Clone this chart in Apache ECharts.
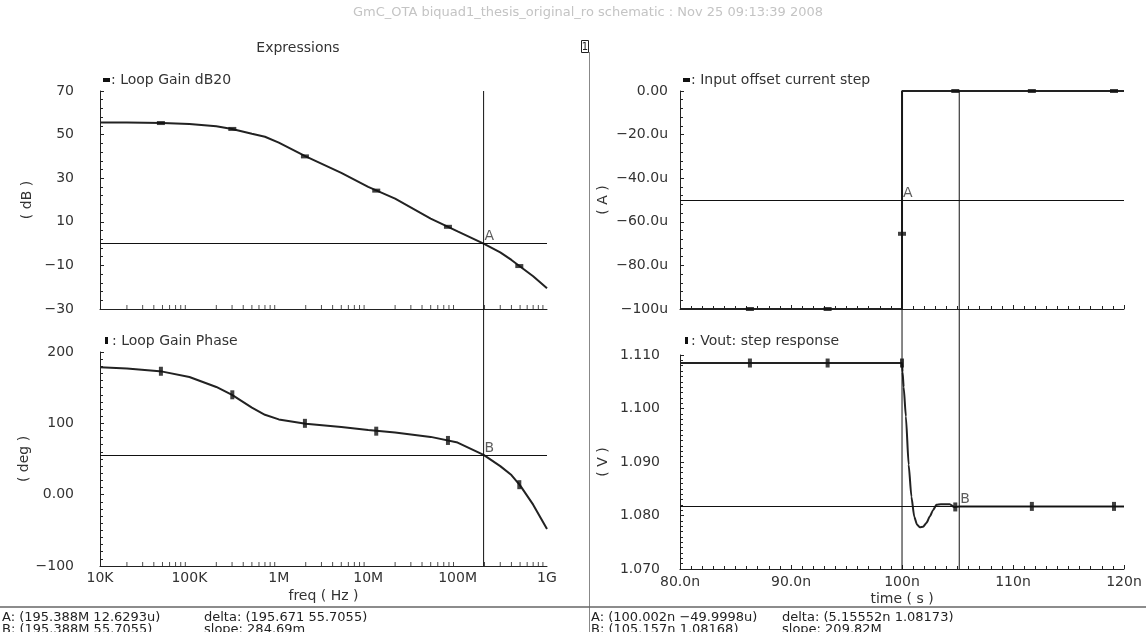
<!DOCTYPE html>
<html><head><meta charset="utf-8">
<script src="https://cdn.jsdelivr.net/npm/echarts@6/dist/echarts.min.js"></script>
<style>html,body{margin:0;padding:0;background:#fff}#c{width:1146px;height:632px}</style>
</head><body><div id="c"></div>
<script>
// ---- data ----
const freqHz   = [1e4,2e4,5e4,1e5,2e5,3e5,5e5,7e5,1e6,2e6,5e6,1e7,2e7,5e7,1e8,1.954e8,3e8,4e8,5e8,7e8,1e9];
const gainDb   = [55.5,55.5,55.3,54.9,53.8,52.6,50.4,49.0,46.3,40.0,32.4,26.0,20.6,11.5,5.6,0.0,-4.0,-7.5,-10.5,-15.0,-20.5];
const phaseDeg = [178.5,177,172.5,165,151,140,122,112,105.5,99.5,95,90.5,87,81,73,55.7,40,27.5,13,-14,-48];

const tStepNs = [80, 100, 100.004, 120];
const iStepUA = [-100, -100, 0, 0];

const tVoutNs = [80,100,100.05,100.15,100.35,100.6,100.85,101.1,101.35,101.6,101.9,102.2,102.5,102.8,103.1,103.5,104.3,104.7,105.2,120];
const vOutV   = [1.1085,1.1085,1.1068,1.1040,1.0985,1.0895,1.0835,1.0798,1.0783,1.0778,1.0779,1.0786,1.0798,1.0810,1.0820,1.0821,1.0821,1.0816,1.0817,1.0817];

const markFreqHz   = [4.8e4, 3.02e5, 1.96e6, 1.23e7, 7.8e7, 4.9e8];
const gainMarkDb   = [55.3, 52.6, 40.0, 24.3, 7.7, -10.3];
const phaseMarkDeg = [173, 140, 100, 89, 76, 14];
const markTimeNs   = [86.3, 93.3, 100.0, 104.8, 111.7, 119.1];
const iMarkUA      = [-100, -100, -65.5, 0, 0, 0];
const vMarkV       = [1.1085, 1.1085, 1.1085, 1.0816, 1.0817, 1.0817];

const cursorFreqHz = 195.388e6, cursorADb = 12.6293e-6, cursorBDeg = 55.7055;
const cursorATimeNs = 100.002, cursorAUA = -49.9998, cursorBTimeNs = 105.157, cursorBV = 1.08168;

const freqTickLabels = ['10K','100K','1M','10M','100M','1G'];
const logMinorMult = [2,3,4,5,6,7,8,9];

const titleText = 'GmC_OTA biquad1_thesis_original_ro schematic : Nov 25 09:13:39 2008';
const infoLeft  = ['A: (195.388M 12.6293u)', 'delta: (195.671 55.7055)', 'B: (195.388M 55.7055)', 'slope: 284.69m'];
const infoRight = ['A: (100.002n \u221249.9998u)', 'delta: (5.15552n 1.08173)', 'B: (105.157n 1.08168)', 'slope: 209.82M'];

// ---- build ----
const FONT = 'DejaVu Sans';
const INK = '#222';
const zip = (a,b) => a.map((v,i)=>[v,b[i]]);
const minus = s => String(s).replace('-', '\u2212');

const logTickVals = [];
for (let e = 4; e < 9; e++) logMinorMult.forEach(m => logTickVals.push(m * Math.pow(10, e)));

const lbl = (show, extra) => Object.assign({show, color:'#333', fontFamily:FONT, fontSize:14}, extra||{});
function yAx(grid, min, max, interval, minorSplit, fmt, name, gap, margin) {
  return {type:'value', gridIndex:grid, min, max, interval,
    axisLine:{show:true, onZero:false, lineStyle:{color:INK, width:1}},
    axisTick:{show:true, inside:true, length:4, lineStyle:{color:INK}},
    minorTick:{show:true, splitNumber:minorSplit, length:3, lineStyle:{color:INK}},
    splitLine:{show:false}, minorSplitLine:{show:false},
    axisLabel: lbl(true, {formatter: fmt, margin, padding:[0,0,5,0]}),
    name, nameLocation:'middle', nameGap:gap, nameRotate:90,
    nameTextStyle:{color:'#333', fontFamily:FONT, fontSize:14}};
}
function xLog(grid, showLabels, name) {
  return {type:'log', logBase:10, gridIndex:grid, min:1e4, max:1e9,
    axisLine:{show:true, onZero:false, lineStyle:{color:INK, width:1}},
    axisTick:{show:false}, splitLine:{show:false},
    axisLabel: lbl(showLabels, {margin:5, formatter: v => freqTickLabels[Math.round(Math.log10(v)) - 4] || ''}),
    name: name || '', nameLocation:'middle', nameGap:23,
    nameTextStyle:{color:'#333', fontFamily:FONT, fontSize:14}};
}
function xTime(grid, showLabels, name) {
  return {type:'value', gridIndex:grid, min:80, max:120, interval:10,
    axisLine:{show:true, onZero:false, lineStyle:{color:INK, width:1}},
    axisTick:{show:true, inside:true, length:4, lineStyle:{color:INK}},
    minorTick:{show:true, splitNumber:10, length:3, lineStyle:{color:INK}},
    splitLine:{show:false}, minorSplitLine:{show:false},
    axisLabel: lbl(showLabels, {margin:6, formatter: v => Number(v).toPrecision(3) + 'n'}),
    name: name || '', nameLocation:'middle', nameGap:23,
    nameTextStyle:{color:'#333', fontFamily:FONT, fontSize:14}};
}
const hidAx = (type, grid, min, max) => ({type, gridIndex:grid, min, max, show:false});

const curve = (x, y, data, smooth) => ({type:'line', xAxisIndex:x, yAxisIndex:y, data, showSymbol:false,
  smooth: smooth || false, smoothMonotone:'x', lineStyle:{color:INK, width:2}, silent:true, z:3});
const hCursor = v => ({silent:true, symbol:'none', precision:8, label:{show:false},
  lineStyle:{color:'#111', width:1, type:'solid'}, data:[{yAxis:v}]});
const markers = (x, y, data, size) => ({type:'scatter', xAxisIndex:x, yAxisIndex:y, data, symbol:'rect',
  symbolSize:size, itemStyle:{color:'#111'}, silent:true, z:4});
const cursorLabel = (x, y, pt, txt) => ({type:'scatter', xAxisIndex:x, yAxisIndex:y, data:[pt], symbolSize:0,
  silent:true, label:{show:true, formatter:txt, position:[1,-14], color:'#333', fontFamily:FONT, fontSize:14}});
const logTicks = (x, y, ymin) => ({type:'scatter', xAxisIndex:x, yAxisIndex:y, data:logTickVals.map(v=>[v,ymin]),
  symbol:'rect', symbolSize:[1,4], symbolOffset:[0,-2], itemStyle:{color:INK}, silent:true, z:2});
const vCursor = (x, y, xv) => ({type:'line', xAxisIndex:x, yAxisIndex:y, data:[[xv,0],[xv,1]], showSymbol:false,
  lineStyle:{color:'#111', width:1}, silent:true});

const gTxt = (text, x, y, opts) => Object.assign({type:'text', x, y, silent:true,
  style:Object.assign({text, fill:'#333', font:'14px "' + FONT + '"', textVerticalAlign:'middle'}, (opts||{}))});

const option = {
  animation:false,
  backgroundColor:'#fff',
  grid:[
    {left:100, top:91, width:447, height:218},
    {left:100, top:352, width:447, height:214},
    {left:680, top:91, width:444, height:218},
    {left:680, top:355, width:444, height:214},
    {left:100, top:91, width:447, height:475},
    {left:680, top:91, width:444, height:478}
  ],
  xAxis:[
    xLog(0, false), xLog(1, true, 'freq ( Hz )'),
    xTime(2, false), xTime(3, true, 'time ( s )'),
    hidAx('log', 4, 1e4, 1e9), hidAx('value', 5, 80, 120)
  ],
  yAxis:[
    yAx(0, -30, 70, 20, 5, v => minus(v), '( dB )', 66, 26),
    yAx(1, -100, 200, 100, 10, v => v === 0 ? '0.00' : minus(v), '( deg )', 66, 26),
    yAx(2, -100, 0, 20, 5, v => v === 0 ? '0.00' : minus(Number(v).toPrecision(3)) + 'u', '( A )', 70, 12),
    yAx(3, 1.07, 1.11, 0.01, 10, v => Number(v).toFixed(3), '( V )', 70, 20),
    hidAx('value', 4, 0, 1), hidAx('value', 5, 0, 1)
  ],
  series:[
    Object.assign(curve(0,0, zip(freqHz, gainDb)), {markLine:hCursor(cursorADb)}),
    markers(0,0, zip(markFreqHz, gainMarkDb), [8,4]),
    cursorLabel(0,0, [cursorFreqHz, cursorADb], 'A'),
    logTicks(0,0,-30),

    Object.assign(curve(1,1, zip(freqHz, phaseDeg)), {markLine:hCursor(cursorBDeg)}),
    markers(1,1, zip(markFreqHz, phaseMarkDeg), [4,9]),
    cursorLabel(1,1, [cursorFreqHz, cursorBDeg], 'B'),
    logTicks(1,1,-100),

    Object.assign(curve(2,2, zip(tStepNs, iStepUA)), {markLine:hCursor(cursorAUA)}),
    markers(2,2, zip(markTimeNs, iMarkUA), [8,4]),
    cursorLabel(2,2, [cursorATimeNs, cursorAUA], 'A'),

    Object.assign(curve(3,3, zip(tVoutNs, vOutV), 0.2), {markLine:hCursor(cursorBV)}),
    markers(3,3, zip(markTimeNs, vMarkV), [4,9]),
    cursorLabel(3,3, [cursorBTimeNs, cursorBV], 'B'),

    vCursor(4,4, cursorFreqHz),
    vCursor(5,5, cursorATimeNs),
    vCursor(5,5, cursorBTimeNs)
  ],
  graphic:[
    gTxt(titleText, 588, 13, {fill:'#c4c4c4', font:'13px "' + FONT + '"', textAlign:'center'}),
    gTxt('Expressions', 298, 48, {textAlign:'center'}),
    {type:'rect', shape:{x:581.5, y:40.5, width:7, height:12}, style:{fill:'#fff', stroke:'#222', lineWidth:1}, silent:true},
    gTxt('1', 585, 47, {textAlign:'center', font:'10px "' + FONT + '"', fill:'#222'}),
    {type:'line', shape:{x1:589.5, y1:52, x2:589.5, y2:632}, style:{stroke:'#888', lineWidth:1}, silent:true},
    {type:'line', shape:{x1:0, y1:607, x2:1146, y2:607}, style:{stroke:'#666', lineWidth:1.5}, silent:true},

    {type:'rect', shape:{x:103, y:78, width:7, height:4}, style:{fill:'#111'}, silent:true},
    gTxt(': Loop Gain dB20', 111, 80),
    {type:'rect', shape:{x:105, y:337, width:3, height:7}, style:{fill:'#111'}, silent:true},
    gTxt(': Loop Gain Phase', 112, 341),
    {type:'rect', shape:{x:683, y:78, width:7, height:4}, style:{fill:'#111'}, silent:true},
    gTxt(': Input offset current step', 691, 80),
    {type:'rect', shape:{x:685, y:337, width:3, height:7}, style:{fill:'#111'}, silent:true},
    gTxt(': Vout: step response', 691, 341),

    gTxt(infoLeft[0], 2, 618, {font:'13px "' + FONT + '"', fill:'#222'}),
    gTxt(infoLeft[1], 204, 618, {font:'13px "' + FONT + '"', fill:'#222'}),
    gTxt(infoLeft[2], 2, 630, {font:'13px "' + FONT + '"', fill:'#222'}),
    gTxt(infoLeft[3], 204, 630, {font:'13px "' + FONT + '"', fill:'#222'}),
    gTxt(infoRight[0], 591, 618, {font:'13px "' + FONT + '"', fill:'#222'}),
    gTxt(infoRight[1], 782, 618, {font:'13px "' + FONT + '"', fill:'#222'}),
    gTxt(infoRight[2], 591, 630, {font:'13px "' + FONT + '"', fill:'#222'}),
    gTxt(infoRight[3], 782, 630, {font:'13px "' + FONT + '"', fill:'#222'})
  ]
};

const chart = echarts.init(document.getElementById('c'), null, {renderer:'canvas'});
chart.setOption(option);
</script>
</body></html>
